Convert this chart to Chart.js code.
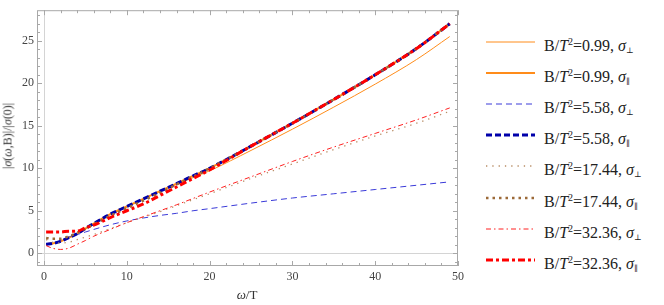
<!DOCTYPE html>
<html>
<head>
<meta charset="utf-8">
<script src="https://cdn.jsdelivr.net/npm/chart.js@4"></script>
<style>
  body { margin: 0; background: #fff; font-family: "Liberation Serif", "Times New Roman", "DejaVu Serif", serif; }
  #wrap { position: relative; width: 664px; height: 305px; }
  #c { position: absolute; left: 0; top: 0; }
  .row { position: absolute; left: 485px; height: 20px; white-space: nowrap; font-size: 16px; color: #222; }
  .row svg { position: absolute; left: 0; top: 5px; }
  .row span { position: absolute; left: 59px; top: 0; line-height: 20px; }
  sub { font-size: 8px; vertical-align: -2px; }
  sup { font-size: 10px; vertical-align: 6px; }
  #ylab { position: absolute; left: 8px; top: 136px; font-size: 12px; color: #333;
          transform: translate(-50%, -50%) rotate(-90deg); white-space: nowrap; }
  #xlab { position: absolute; left: 247px; top: 295px; font-size: 13px; color: #333;
          transform: translate(-50%, -50%); white-space: nowrap; }
</style>
</head>
<body>
<div id="wrap">
  <canvas id="c" width="470" height="305"></canvas>
  <div id="ylab">|<i>σ</i>(<i>ω</i>,B)|/|<i>σ</i>(0)|</div>
  <div id="xlab"><i>ω</i>/T</div>
  <div id="legend"></div>
</div>
<script>
// omega/T sample points
const omega = [0.25, 1, 2, 3, 4, 5, 6, 8, 10, 12, 14, 16, 18, 20, 25, 30, 35, 40, 45, 49];

// |sigma(omega,B)|/|sigma(0)|
const perp099 = [1.0, 1.1, 1.4, 1.8, 2.3, 2.9, 3.5, 4.6, 5.5, 6.4, 7.3, 8.1, 8.9, 9.7, 12.1, 14.6, 17.2, 19.9, 22.8, 25.5];
const par099  = [1.05, 1.15, 1.4, 1.85, 2.3, 2.9, 3.5, 4.6, 5.5, 6.4, 7.3, 8.2, 9.1, 10.0, 12.6, 15.3, 18.1, 21.0, 24.1, 27.0];
const perp558 = [1.0, 1.1, 1.5, 1.9, 2.2, 2.5, 2.8, 3.35, 3.8, 4.15, 4.45, 4.7, 5.0, 5.25, 5.9, 6.5, 7.0, 7.5, 8.0, 8.4];
const par558  = [1.05, 1.15, 1.4, 1.85, 2.3, 2.9, 3.5, 4.6, 5.5, 6.4, 7.3, 8.2, 9.1, 10.0, 12.6, 15.3, 18.1, 21.0, 24.1, 27.0];
const perp1744 = [1.6, 1.3, 1.2, 1.3, 1.6, 1.9, 2.2, 2.9, 3.6, 4.25, 4.9, 5.6, 6.3, 7.0, 8.8, 10.5, 12.2, 13.8, 15.3, 16.7];
const par1744  = [1.8, 1.7, 1.7, 2.0, 2.4, 2.9, 3.4, 4.4, 5.3, 6.2, 7.1, 8.1, 9.0, 10.0, 12.6, 15.3, 18.1, 21.0, 24.1, 27.0];
const perp3236 = [0.9, 0.6, 0.45, 0.6, 1.05, 1.5, 2.0, 2.8, 3.6, 4.3, 5.0, 5.7, 6.45, 7.2, 9.0, 10.8, 12.5, 14.1, 15.7, 17.1];
const par3236  = [2.5, 2.5, 2.5, 2.6, 2.6, 3.0, 3.3, 4.2, 5.0, 5.8, 6.8, 7.8, 8.8, 9.8, 12.6, 15.3, 18.1, 21.0, 24.1, 27.0];

const xTicks = [0, 10, 20, 30, 40, 50];
const yTicks = [0, 5, 10, 15, 20, 25];

const serif = '"Liberation Serif", "Times New Roman", "DejaVu Serif", serif';

const series = [
  { b: "0.99",  s: "⊥", data: perp099,  color: "#ff8c1a", width: 1,   dash: [] },
  { b: "0.99",  s: "∥", data: par099,   color: "#ff8c1a", width: 2,   dash: [] },
  { b: "5.58",  s: "⊥", data: perp558,  color: "#3a3ad8", width: 1,   dash: [6, 4] },
  { b: "5.58",  s: "∥", data: par558,   color: "#0000aa", width: 3,   dash: [6, 3] },
  { b: "17.44", s: "⊥", data: perp1744, color: "#b88c64", width: 1.3, dash: [1.3, 5] },
  { b: "17.44", s: "∥", data: par1744,  color: "#9c6a38", width: 2.5, dash: [2.5, 4] },
  { b: "32.36", s: "⊥", data: perp3236, color: "#ff2020", width: 1,   dash: [5, 3, 1.5, 3] },
  { b: "32.36", s: "∥", data: par3236,  color: "#ff0000", width: 3,   dash: [7, 3, 3, 3] }
];

// frame with inward ticks on all sides, plus the zero axes
const frame = {
  id: "frame",
  beforeDatasetsDraw(chart) {
    const { ctx, chartArea: a, scales: { x, y } } = chart;
    ctx.save();
    ctx.lineWidth = 1;
    ctx.strokeStyle = "#d4d4d4";
    const x0 = Math.round(x.getPixelForValue(0)) + 0.5;
    const y0 = Math.round(y.getPixelForValue(0)) + 0.5;
    ctx.beginPath();
    ctx.moveTo(x0, a.top); ctx.lineTo(x0, a.bottom);
    ctx.moveTo(a.left, y0); ctx.lineTo(a.right, y0);
    ctx.stroke();

    ctx.strokeStyle = "#a8a8a8";
    ctx.strokeRect(a.left + 0.5, a.top + 0.5, a.right - a.left - 1, a.bottom - a.top - 1);
    ctx.beginPath();
    for (let v = 0; v <= 50; v += 2) {
      const px = Math.round(x.getPixelForValue(v)) + 0.5;
      const len = v % 10 === 0 ? 5 : 3;
      ctx.moveTo(px, a.bottom); ctx.lineTo(px, a.bottom - len);
      ctx.moveTo(px, a.top); ctx.lineTo(px, a.top + len);
    }
    for (let v = -1; v <= 28; v++) {
      const py = Math.round(y.getPixelForValue(v)) + 0.5;
      const len = v % 5 === 0 ? 5 : 3;
      ctx.moveTo(a.left, py); ctx.lineTo(a.left + len, py);
      ctx.moveTo(a.right, py); ctx.lineTo(a.right - len, py);
    }
    ctx.stroke();
    ctx.restore();
  }
};

new Chart(document.getElementById("c"), {
  type: "line",
  data: {
    datasets: series.map((s, i) => ({
      label: "B/T2=" + s.b + ", σ" + s.s,
      data: omega.map((w, k) => ({ x: w, y: s.data[k] })),
      borderColor: s.color,
      borderWidth: s.width,
      borderDash: s.dash,
      pointRadius: 0,
      fill: false,
      tension: 0.4,
      cubicInterpolationMode: "monotone",
      order: series.length - 1 - i
    }))
  },
  options: {
    responsive: false,
    devicePixelRatio: 1,
    animation: false,
    layout: { padding: { left: 0, right: 12, top: 6, bottom: 0 } },
    plugins: { legend: { display: false }, tooltip: { enabled: false } },
    scales: {
      x: {
        type: "linear", min: -0.85, max: 50,
        grid: { display: false, drawTicks: false },
        border: { display: false },
        afterBuildTicks: s => { s.ticks = xTicks.map(v => ({ value: v })); },
        afterFit: s => { s.height = 39; },
        ticks: { padding: 4, color: "#444", font: { family: serif, size: 12 } }
      },
      y: {
        type: "linear", min: -1.5, max: 28.6,
        grid: { display: false, drawTicks: false },
        border: { display: false },
        afterBuildTicks: s => { s.ticks = yTicks.map(v => ({ value: v })); },
        afterFit: s => { s.width = 37; },
        ticks: { padding: 3, color: "#444", font: { family: serif, size: 12 } }
      }
    }
  },
  plugins: [frame]
});

// legend on the right
const legend = document.getElementById("legend");
series.forEach((s, i) => {
  const row = document.createElement("div");
  row.className = "row";
  row.style.top = (31.5 + i * 31.2) + "px";
  row.innerHTML =
    '<svg width="52" height="10"><line x1="1" y1="5" x2="50" y2="5" stroke="' + s.color +
    '" stroke-width="' + s.width + '" stroke-dasharray="' + (s.dash.join(" ") || "none") + '"/></svg>' +
    '<span>B/<i>T</i><sup>2</sup>=' + s.b + ', <i>σ</i><sub>' + s.s + '</sub></span>';
  legend.appendChild(row);
});
</script>
</body>
</html>
